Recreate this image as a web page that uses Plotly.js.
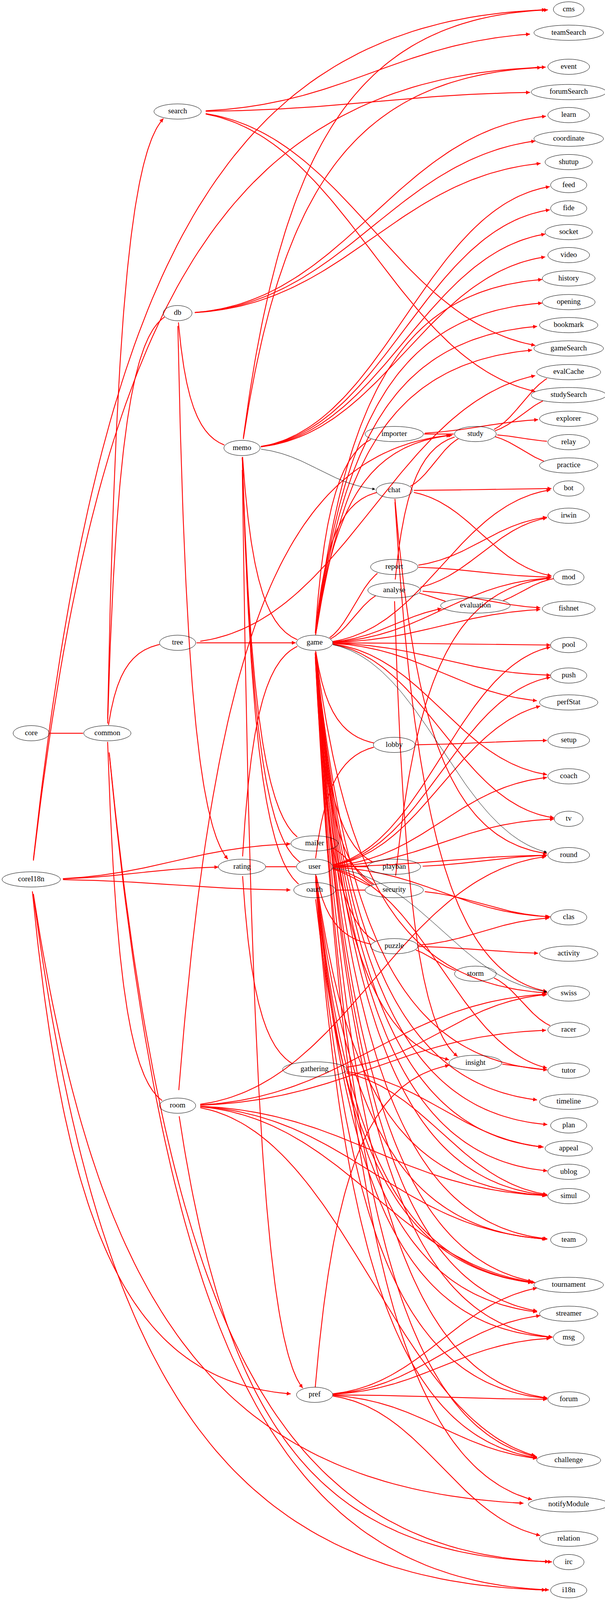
<!DOCTYPE html>
<html>
<head>
<meta charset="utf-8">
<script src="https://cdn.plot.ly/plotly-3.0.1.min.js"></script>
<style>
  html, body { margin: 0; padding: 0; background: #fff; overflow: hidden; }
  #graph { width: 1550px; }
</style>
</head>
<body>
<div id="graph"></div>
<script>
// ── Nodes (layout, left→right ranks) ──────────────────────────────────────────
const nodeNames = [
  'core', 'coreI18n', 'common',
  'search', 'db', 'tree', 'room',
  'memo', 'rating',
  'game', 'mailer', 'user', 'oauth', 'gathering', 'pref',
  'importer', 'chat', 'report', 'analyse', 'lobby', 'playban', 'security', 'puzzle',
  'study', 'evaluation', 'storm', 'insight',
  'cms', 'teamSearch', 'event', 'forumSearch', 'learn', 'coordinate', 'shutup', 'feed',
  'fide', 'socket', 'video', 'history', 'opening', 'bookmark', 'gameSearch', 'evalCache',
  'studySearch', 'explorer', 'relay', 'practice', 'bot', 'irwin', 'mod', 'fishnet',
  'pool', 'push', 'perfStat', 'setup', 'coach', 'tv', 'round', 'clas', 'activity',
  'swiss', 'racer', 'tutor', 'timeline', 'plan', 'appeal', 'ublog', 'simul', 'team',
  'tournament', 'streamer', 'msg', 'forum', 'challenge', 'notifyModule', 'relation',
  'irc', 'i18n'
];
const nodeX = [
  80, 80, 275,
  455, 455, 455, 455,
  620, 620,
  806, 806, 806, 806, 806, 806,
  1010, 1010, 1010, 1010, 1010, 1010, 1010, 1010,
  1218, 1218, 1218, 1218,
  1457, 1457, 1457, 1457, 1457, 1457, 1457, 1457,
  1457, 1457, 1457, 1457, 1457, 1457, 1457, 1457,
  1457, 1457, 1457, 1457, 1457, 1457, 1457, 1457,
  1457, 1457, 1457, 1457, 1457, 1457, 1457, 1457, 1457,
  1457, 1457, 1457, 1457, 1457, 1457, 1457, 1457, 1457,
  1457, 1457, 1457, 1457, 1457, 1457, 1457,
  1457, 1457
];
const nodeY = [
  2262, 2713, 2262,
  344, 966, 1983, 3411,
  1382, 2674,
  1983, 2602, 2674, 2746, 3299, 4303,
  1339, 1513, 1749, 1821, 2298, 2674, 2746, 2919,
  1339, 1868, 3004, 3279,
  29, 101, 206, 284, 355, 428, 500, 571,
  643, 716, 787, 859, 932, 1003, 1075, 1148,
  1219, 1292, 1364, 1436, 1507, 1591, 1781, 1878,
  1990, 2084, 2167, 2284, 2395, 2526, 2638, 2830, 2942,
  3065, 3177, 3303, 3399, 3472, 3543, 3615, 3690, 3825,
  3964, 4053, 4127, 4317, 4505, 4641, 4747,
  4819, 4906
];

// ── Edges: source → targets ──────────────────────────────────────────────────
const redEdges = {
  core: ['common'],
  common: ['tree', 'search', 'db', 'room', 'i18n', 'irc'],
  coreI18n: ['cms', 'event', 'mailer', 'rating', 'oauth', 'pref', 'notifyModule', 'i18n'],
  search: ['teamSearch', 'forumSearch', 'gameSearch', 'studySearch'],
  db: ['learn', 'coordinate', 'shutup', 'memo', 'rating'],
  memo: ['cms', 'event', 'feed', 'fide', 'socket', 'video', 'game', 'mailer', 'user', 'oauth', 'pref'],
  tree: ['game', 'evalCache'],
  room: ['study', 'round', 'swiss', 'racer', 'simul', 'team', 'tournament', 'challenge', 'irc'],
  rating: ['game', 'user', 'gathering'],
  game: ['history', 'opening', 'bookmark', 'gameSearch', 'importer', 'study', 'bot', 'chat',
         'report', 'analyse', 'pool', 'push', 'perfStat', 'lobby', 'coach', 'tv', 'playban',
         'security', 'puzzle', 'swiss', 'insight', 'timeline', 'plan', 'appeal', 'ublog',
         'simul', 'team', 'tournament', 'streamer', 'msg', 'forum', 'challenge',
         'notifyModule', 'fishnet', 'mod', 'evaluation', 'tutor'],
  user: ['playban', 'security', 'puzzle', 'tv', 'round', 'clas', 'tutor', 'simul', 'team',
         'tournament', 'msg', 'challenge', 'lobby', 'pool', 'push', 'perfStat', 'coach',
         'forum', 'streamer'],
  mailer: ['security'],
  oauth: ['security', 'tournament'],
  gathering: ['swiss', 'appeal', 'simul'],
  playban: ['round'],
  security: ['clas', 'mod'],
  puzzle: ['clas', 'activity', 'storm'],
  storm: ['racer'],
  insight: ['tutor'],
  chat: ['study', 'bot', 'mod', 'swiss', 'round'],
  importer: ['study', 'explorer'],
  study: ['relay', 'practice', 'studySearch', 'evalCache'],
  report: ['irwin', 'mod'],
  analyse: ['irwin', 'fishnet', 'evaluation', 'study', 'insight'],
  evaluation: ['mod'],
  lobby: ['setup'],
  pref: ['streamer', 'msg', 'forum', 'challenge', 'relation', 'insight', 'tournament']
};
const blackEdges = {
  memo: ['chat'],
  game: ['round'],
  user: ['swiss']
};

// ── Geometry helpers ─────────────────────────────────────────────────────────
const NODE_H = 47;
const idx = {};
nodeNames.forEach((n, i) => { idx[n] = i; });
const nodeW = nodeNames.map(n => Math.max(74, 36 + n.length * 14.2));

function inside(i, x, y) {
  const rx = nodeW[i] / 2, ry = NODE_H / 2;
  const dx = (x - nodeX[i]) / rx, dy = (y - nodeY[i]) / ry;
  return dx * dx + dy * dy < 1;
}

function bez(p0, p1, p2, p3, t) {
  const u = 1 - t;
  return [
    u*u*u*p0[0] + 3*u*u*t*p1[0] + 3*u*t*t*p2[0] + t*t*t*p3[0],
    u*u*u*p0[1] + 3*u*u*t*p1[1] + 3*u*t*t*p2[1] + t*t*t*p3[1]
  ];
}

// sample a curve between two nodes, clipped to both ellipses
function edgeCurve(s, t) {
  const a = idx[s], b = idx[t];
  const x0 = nodeX[a], y0 = nodeY[a], x1 = nodeX[b], y1 = nodeY[b];
  const dx = x1 - x0, dy = y1 - y0;
  const p0 = [x0, y0], p3 = [x1, y1];
  let p1, p2;
  if (Math.abs(dx) < 5) {
    p1 = [x0 + 40, y0 + dy * 0.25];
    p2 = [x1 + 40, y1 - dy * 0.25];
  } else if (Math.abs(dy) > dx * 1.2) {
    // long vertical run: rise near the source column, then swing across
    p1 = [x0 + dx * 0.12, y0 + dy * 0.7];
    p2 = [x0 + dx * 0.35, y1];
  } else {
    const k = Math.max(50, Math.abs(dx) * 0.45);
    p1 = [x0 + k, y0];
    p2 = [x1 - k, y1];
  }
  const pts = [];
  const N = 90;
  for (let i = 0; i <= N; i++) {
    const p = bez(p0, p1, p2, p3, i / N);
    if (!inside(a, p[0], p[1]) && !inside(b, p[0], p[1])) pts.push(p);
  }
  return pts;
}

function buildEdges(edgeMap, color, width) {
  const xs = [], ys = [], arrows = [];
  Object.keys(edgeMap).forEach(s => {
    edgeMap[s].forEach(t => {
      const pts = edgeCurve(s, t);
      if (pts.length < 2) return;
      pts.forEach(p => { xs.push(p[0]); ys.push(p[1]); });
      xs.push(null); ys.push(null);
      const head = pts[pts.length - 1], tail = pts[pts.length - 2];
      arrows.push({
        x: head[0], y: head[1], ax: tail[0], ay: tail[1],
        xref: 'x', yref: 'y', axref: 'x', ayref: 'y',
        showarrow: true, arrowhead: 2, arrowsize: width > 1.5 ? 0.9 : 1.4,
        arrowwidth: width, arrowcolor: color, text: '', standoff: 0
      });
    });
  });
  const trace = {
    x: xs, y: ys, mode: 'lines', type: 'scatter', hoverinfo: 'skip',
    line: { color: color, width: width }, showlegend: false
  };
  return { trace, arrows };
}

// ── Build figure ─────────────────────────────────────────────────────────────
const red = buildEdges(redEdges, '#ff0000', 2.2);
const black = buildEdges(blackEdges, '#000000', 1);

const labels = {
  x: nodeX, y: nodeY, text: nodeNames, mode: 'text', type: 'scatter',
  textfont: { family: 'Liberation Serif, DejaVu Serif, serif', size: 19, color: '#000' },
  hoverinfo: 'skip', showlegend: false
};

const shapes = nodeNames.map((n, i) => ({
  type: 'circle', xref: 'x', yref: 'y',
  x0: nodeX[i] - nodeW[i] / 2, x1: nodeX[i] + nodeW[i] / 2,
  y0: nodeY[i] - NODE_H / 2, y1: nodeY[i] + NODE_H / 2,
  line: { color: '#000', width: 1 }, fillcolor: 'rgba(0,0,0,0)', layer: 'above'
}));

// fit the whole graph in the window actually given
const H = Math.min(4936, window.innerHeight || 4936);
document.getElementById('graph').style.height = H + 'px';

const layout = {
  width: 1550, height: H,
  margin: { l: 0, r: 0, t: 0, b: 0 },
  paper_bgcolor: '#fff', plot_bgcolor: '#fff',
  xaxis: { range: [0, 1550], visible: false, fixedrange: true },
  yaxis: { range: [4936, 0], visible: false, fixedrange: true },
  shapes: shapes,
  annotations: red.arrows.concat(black.arrows),
  showlegend: false
};

Plotly.newPlot('graph', [red.trace, black.trace, labels], layout,
  { displayModeBar: false, staticPlot: true });
</script>
</body>
</html>
